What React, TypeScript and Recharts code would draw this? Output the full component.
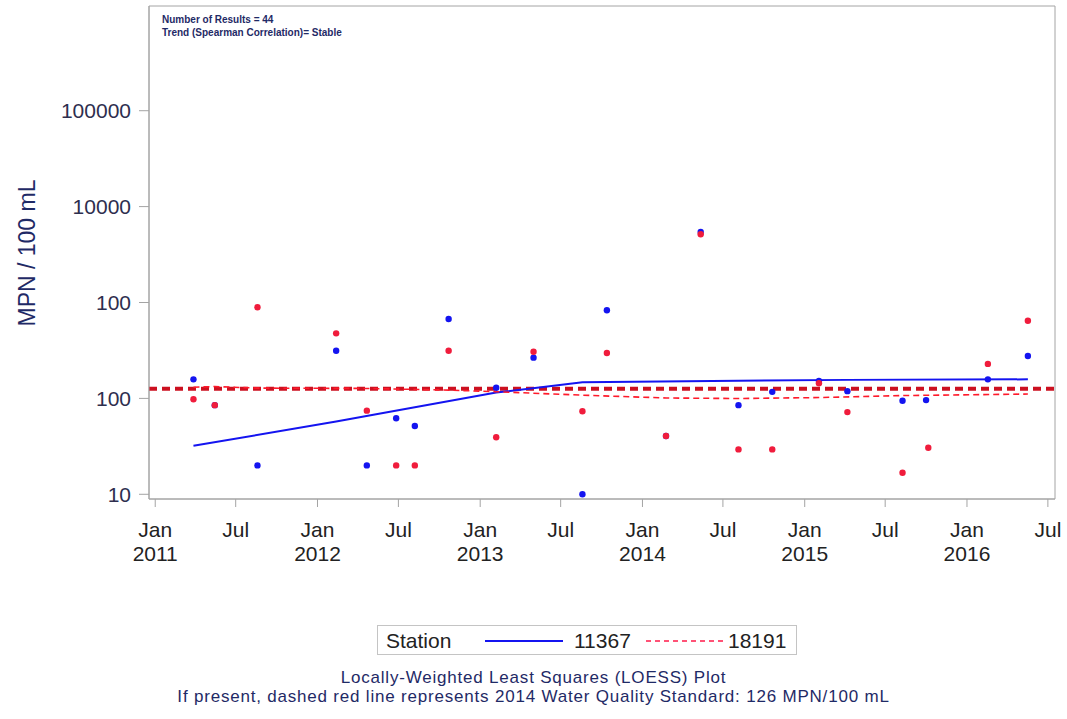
import React from 'react';
import { ComposedChart, Scatter, Line, XAxis, YAxis, ReferenceLine, ReferenceArea } from 'recharts';

// ---- Data ----
const station11367Dates = [
  '2011-03-28', '2011-05-15', '2011-08-19', '2012-02-12', '2012-04-21', '2012-06-26',
  '2012-08-07', '2012-10-22', '2013-02-06', '2013-05-01', '2013-08-19', '2013-10-13',
  '2014-02-23', '2014-05-12', '2014-08-05', '2014-10-20', '2015-02-02', '2015-04-07',
  '2015-08-09', '2015-10-01', '2016-02-17', '2016-05-17',
];
const station11367Values = [
  158, 85, 20, 314, 20, 62,
  51.5, 673, 129, 266, 10, 830,
  40.5, 5450, 85, 117, 152, 119,
  94.6, 96, 158, 277,
];

const station18191Dates = [
  '2011-03-28', '2011-05-15', '2011-08-19', '2012-02-12', '2012-04-21', '2012-06-26',
  '2012-08-07', '2012-10-22', '2013-02-06', '2013-05-01', '2013-08-19', '2013-10-13',
  '2014-02-23', '2014-05-12', '2014-08-05', '2014-10-20', '2015-02-02', '2015-04-07',
  '2015-08-09', '2015-10-06', '2016-02-17', '2016-05-17',
];
const station18191Values = [
  98, 85, 891, 477, 74.5, 20,
  20, 314, 39.3, 307, 73.5, 297,
  40.5, 5150, 29.4, 29.4, 144, 72,
  16.8, 30.6, 229, 646,
];

const loess11367Dates = ['2011-03-28', '2012-02-12', '2013-02-06', '2013-08-19', '2014-08-05', '2015-04-07', '2016-05-17'];
const loess11367Values = [32, 57.5, 115, 147, 153, 156, 158];

const loess18191Dates = [
  '2011-03-28', '2011-05-15', '2011-08-19', '2012-04-21', '2012-10-22', '2013-02-06',
  '2013-08-19', '2014-02-23', '2014-08-05', '2015-02-02', '2015-08-09', '2016-05-17',
];
const loess18191Values = [130.6, 133, 128, 127, 122, 117.5, 108, 101, 99.7, 102, 107, 111];

const standardValue = 126;

const yTickValues = [10, 100, 1000, 10000, 100000];
const yTickLabels = ['10', '100', '100', '10000', '100000'];

const xTickDates = [
  '2011-01-01', '2011-07-01', '2012-01-01', '2012-07-01', '2013-01-01', '2013-07-01',
  '2014-01-01', '2014-07-01', '2015-01-01', '2015-07-01', '2016-01-01', '2016-07-01',
];
const xTickMonths = ['Jan', 'Jul', 'Jan', 'Jul', 'Jan', 'Jul', 'Jan', 'Jul', 'Jan', 'Jul', 'Jan', 'Jul'];
const xTickYears = ['2011', '', '2012', '', '2013', '', '2014', '', '2015', '', '2016', ''];

const xDomainDates = ['2010-12-18', '2016-07-17'];
const yDomain: [number, number] = [8.93, 1236000];

// ---- Helpers ----
const toT = (s: string) => {
  const [y, m, d] = s.split('-').map(Number);
  return Date.UTC(y, m - 1, d);
};
const build = (dates: string[], values: number[]) => dates.map((d, i) => ({ t: toT(d), v: values[i] }));

const blueData = build(station11367Dates, station11367Values);
const redData = build(station18191Dates, station18191Values);
const blueLoess = build(loess11367Dates, loess11367Values);
const redLoess = build(loess18191Dates, loess18191Values);
const xTicks = xTickDates.map(toT);
const xDomain: [number, number] = [toT(xDomainDates[0]), toT(xDomainDates[1])];

const FONT = '"Liberation Sans", Arial, Helvetica, sans-serif';
const BLUE = '#1414f0';
const RED = '#f01c3c';
const NAVY = '#1f2a66';
const FRAME = '#a4a4a4';

const XTick = (props: any) => {
  const { x, y, payload } = props;
  const idx = xTicks.indexOf(payload.value);
  return (
    <g>
      <text x={x} y={y + 30} textAnchor="middle" fontSize={21} fontFamily={FONT} fill="#222">
        {xTickMonths[idx]}
      </text>
      {xTickYears[idx] ? (
        <text x={x} y={y + 54} textAnchor="middle" fontSize={21} fontFamily={FONT} fill="#222">
          {xTickYears[idx]}
        </text>
      ) : null}
    </g>
  );
};

const dot = (color: string) => (props: any) => (
  <circle cx={props.cx} cy={props.cy} r={3.2} fill={color} />
);

export default function App() {
  return (
    <div style={{ position: 'absolute', left: 0, top: 0, width: 1067, height: 719, background: '#fff', fontFamily: FONT }}>
      <ComposedChart width={1067} height={719} margin={{ top: 6, right: 12, left: 0, bottom: 160 }}>
        <XAxis
          dataKey="t"
          type="number"
          domain={xDomain}
          allowDataOverflow
          ticks={xTicks}
          interval={0}
          tick={<XTick />}
          tickSize={8}
          tickMargin={0}
          height={60}
          stroke={FRAME}
          tickLine={{ stroke: FRAME }}
          axisLine={{ stroke: FRAME }}
        />
        <YAxis
          dataKey="v"
          type="number"
          scale="log"
          domain={yDomain}
          allowDataOverflow
          ticks={yTickValues}
          interval={0}
          tickFormatter={(v: number) => yTickLabels[yTickValues.indexOf(v)] ?? ''}
          tick={{ fontSize: 21, fill: '#2e2e4e', fontFamily: FONT }}
          tickSize={10}
          tickMargin={8}
          width={149}
          stroke={FRAME}
          tickLine={{ stroke: FRAME }}
          axisLine={{ stroke: FRAME }}
        />
        <ReferenceArea x1={xDomain[0]} x2={xDomain[1]} y1={yDomain[0]} y2={yDomain[1]} fill="none" stroke={FRAME} strokeWidth={1} fillOpacity={0} />
        <ReferenceLine y={standardValue} stroke="#cc1020" strokeWidth={4} strokeDasharray="8 5" />
        <Line data={blueLoess} dataKey="v" type="linear" stroke={BLUE} strokeWidth={2} dot={false} isAnimationActive={false} />
        <Line data={redLoess} dataKey="v" type="linear" stroke="#ff1a2a" strokeWidth={1.6} strokeDasharray="6 4" dot={false} isAnimationActive={false} />
        <Scatter data={blueData} dataKey="v" shape={dot(BLUE)} isAnimationActive={false} />
        <Scatter data={redData} dataKey="v" shape={dot(RED)} isAnimationActive={false} />
      </ComposedChart>

      {/* annotation in plot */}
      <div style={{ position: 'absolute', left: 162, top: 14, fontSize: 10, fontWeight: 'bold', color: NAVY, lineHeight: '12.5px', whiteSpace: 'nowrap' }}>
        <div>Number of Results = 44</div>
        <div>Trend (Spearman Correlation)= Stable</div>
      </div>

      {/* y-axis title */}
      <div style={{ position: 'absolute', left: 27 - 110, top: 253 - 15, width: 220, height: 30, lineHeight: '30px', textAlign: 'center', transform: 'rotate(-90deg)', fontSize: 23, color: NAVY, whiteSpace: 'nowrap' }}>
        MPN / 100 mL
      </div>

      {/* legend */}
      <div style={{ position: 'absolute', left: 377, top: 625, width: 420, height: 30, boxSizing: 'border-box', border: '1px solid #c4c4c4', fontSize: 21, color: '#222' }}>
        <span style={{ position: 'absolute', left: 8, top: 2, lineHeight: '26px' }}>Station</span>
        <svg style={{ position: 'absolute', left: 107, top: 0 }} width={80} height={30}>
          <line x1={0} y1={15} x2={78} y2={15} stroke={BLUE} strokeWidth={2} />
        </svg>
        <span style={{ position: 'absolute', left: 196, top: 2, lineHeight: '26px' }}>11367</span>
        <svg style={{ position: 'absolute', left: 268, top: 0 }} width={80} height={30}>
          <line x1={0} y1={15} x2={78} y2={15} stroke="#ff1a4a" strokeWidth={1.6} strokeDasharray="5 4" />
        </svg>
        <span style={{ position: 'absolute', left: 350, top: 2, lineHeight: '26px' }}>18191</span>
      </div>

      {/* footer */}
      <div style={{ position: 'absolute', left: 0, top: 668, width: 1067, textAlign: 'center', fontSize: 17, lineHeight: '19px', letterSpacing: '0.8px', color: NAVY, whiteSpace: 'nowrap' }}>
        <div>Locally-Weighted Least Squares (LOESS) Plot</div>
        <div>If present, dashed red line represents 2014 Water Quality Standard: 126 MPN/100 mL</div>
      </div>
    </div>
  );
}
